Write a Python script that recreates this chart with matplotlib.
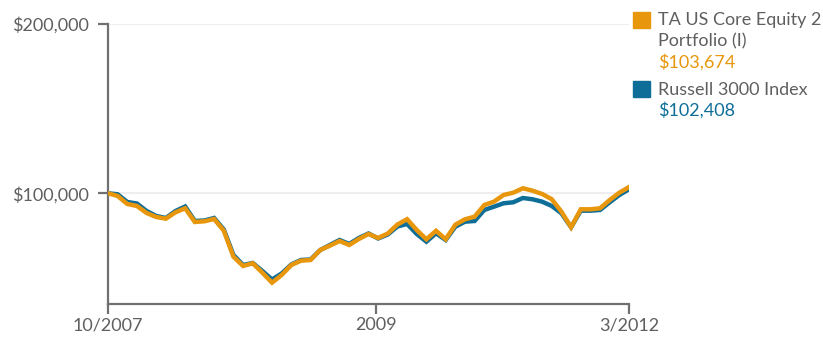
import matplotlib
matplotlib.use('Agg')
import matplotlib.pyplot as plt
from matplotlib.patches import Rectangle
from matplotlib.ticker import FuncFormatter

# month-end values, start value then 10/2007 .. 3/2012
portfolio = [100000, 98400, 93680, 92500, 88360, 86000, 85000, 88780, 91140, 83050,
             83460, 84820, 77900, 62550, 57060, 58650, 53100, 47190, 51740, 57650,
             60190, 60600, 66510, 69050, 71820, 69460, 73000, 75960, 73600, 76250,
             81570, 84700, 78320, 72830, 77850, 72830, 81450, 84640, 86180, 93090,
             95040, 99000, 100350, 102950, 101540, 99590, 96460, 89130, 79920, 90550,
             90550, 91140, 96040, 100350, 103674]
russell = [100000, 99410, 94860, 93970, 89540, 86590, 85410, 89540, 92200, 83640,
           83930, 85410, 78620, 63550, 57650, 58830, 54100, 49080, 52630, 57940,
           60600, 60900, 66510, 69460, 72410, 70050, 73600, 76250, 73300, 75660,
           80390, 81870, 75960, 71410, 76370, 72410, 80270, 83220, 83640, 90140,
           92080, 94090, 94680, 97220, 96460, 95040, 92500, 88190, 79920, 89720,
           89720, 90140, 94680, 99000, 102408]
x_ticks = [0, 27.8, 54]
x_labels = ['10/2007', '2009', '3/2012']
y_ticks = [100000, 200000]

ORANGE = '#E8960C'
BLUE = '#0E6E98'
GREY = '#5f5f5f'
FS = 13

plt.rcParams['font.family'] = ['Lato', 'DejaVu Sans']

fig = plt.figure(figsize=(8.23, 3.38), dpi=100)
ax = fig.add_axes([108 / 823, 1 - 304 / 338, 521 / 823, 280 / 338])

xs = range(len(portfolio))
ax.plot(xs, russell, color=BLUE, lw=3.2, solid_joinstyle='miter', zorder=3)
ax.plot(xs, portfolio, color=ORANGE, lw=3.2, solid_joinstyle='miter', zorder=4)

ax.set_xlim(0, len(portfolio) - 1)
ax.set_ylim(34600, 200000)

for y in y_ticks:
    ax.axhline(y, color='#eeeeee', lw=1.5, zorder=1)

ax.set_yticks(y_ticks)
ax.yaxis.set_major_formatter(FuncFormatter(lambda v, p: '${:,.0f}'.format(v)))
ax.set_xticks(x_ticks)
ax.set_xticklabels(x_labels)

for s in ['top', 'right']:
    ax.spines[s].set_visible(False)
for s in ['left', 'bottom']:
    ax.spines[s].set_color('#707070')
    ax.spines[s].set_linewidth(1.6)
ax.tick_params(axis='both', colors='#707070', width=1.6, length=7.5,
               labelcolor=GREY, labelsize=FS)
ax.tick_params(axis='y', pad=6)
ax.tick_params(axis='x', pad=2)

# legend on the right
def fy(py):
    return 1 - py / 338

fig.patches.append(Rectangle((633 / 823, fy(28)), 17 / 823, 16 / 338,
                             transform=fig.transFigure, color=ORANGE))
fig.patches.append(Rectangle((633 / 823, fy(97)), 17 / 823, 16 / 338,
                             transform=fig.transFigure, color=BLUE))
tx = 658 / 823
fig.text(tx, fy(20), 'TA US Core Equity 2', color=GREY, fontsize=FS, va='center')
fig.text(tx, fy(41), 'Portfolio (I)', color=GREY, fontsize=FS, va='center')
fig.text(tx, fy(62), '${:,}'.format(portfolio[-1]), color=ORANGE, fontsize=FS, va='center')
fig.text(tx, fy(90), 'Russell 3000 Index', color=GREY, fontsize=FS, va='center')
fig.text(tx, fy(110), '${:,}'.format(russell[-1]), color=BLUE, fontsize=FS, va='center')

fig.savefig('out.png', dpi=100)
